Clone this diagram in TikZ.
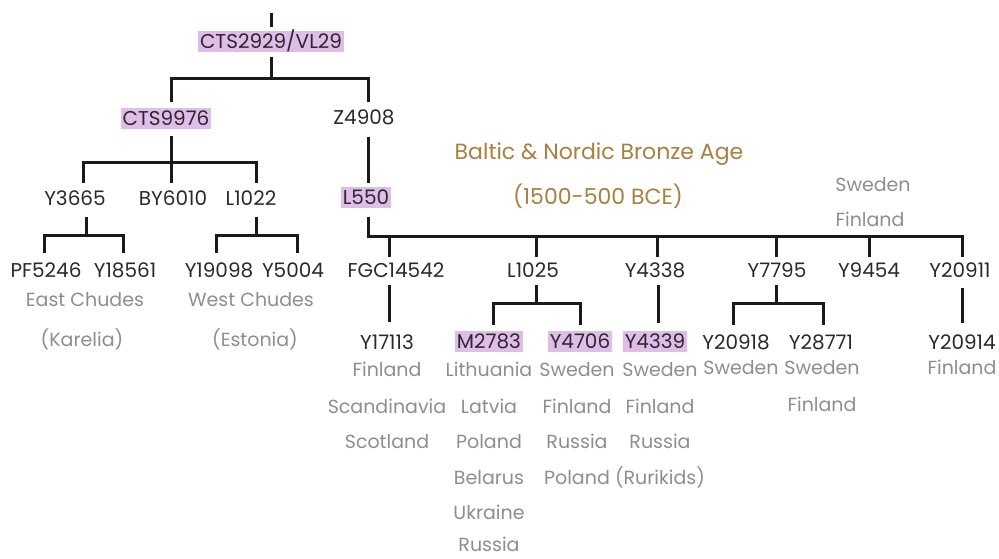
\documentclass[tikz,border=0pt]{standalone}
\usepackage{fontspec}
\setmainfont{Poppins}
\definecolor{hlpurple}{HTML}{E0BCE8}
\definecolor{darktext}{HTML}{2A2A2A}
\definecolor{graytext}{HTML}{8E8E8E}
\definecolor{bronze}{HTML}{A9803F}
\definecolor{treeline}{HTML}{1A1A1A}
\tikzset{
  hap/.style={font=\fontsize{20}{20}\selectfont, text=darktext, inner sep=0pt, text height=14pt, text depth=0pt},
  hl/.style={hap, fill=hlpurple, inner xsep=2pt, inner ysep=3.5pt},
  place/.style={font=\fontsize{19}{19}\selectfont, text=graytext, inner sep=0pt, text height=13pt, text depth=0pt},
  title/.style={font=\fontsize{22}{22}\selectfont, text=bronze, inner sep=0pt, text height=15pt, text depth=0pt},
  tree/.style={line width=3pt, draw=treeline}
}
\begin{document}
\begin{tikzpicture}[x=1pt,y=-1pt]
\useasboundingbox (0,0) rectangle (999,559);
\fill[white] (0,0) rectangle (999,559);
% haplogroup nodes
\node[hl]  (cts2929) at (271,42)    {CTS2929/VL29};
\node[hl]  (cts9976) at (166,118.5) {CTS9976};
\node[hap] (z4908)   at (364,118)   {Z4908};
\node[hap] (y3665)   at (75,198)    {Y3665};
\node[hap] (by6010)  at (173,198)   {BY6010};
\node[hap] (l1022)   at (251,198)   {L1022};
\node[hl]  (l550)    at (366,197.5) {L550};
\node[hap] (pf5246)  at (46,270)    {PF5246};
\node[hap] (y18561)  at (125,270)   {Y18561};
\node[hap] (y19098)  at (219,270)   {Y19098};
\node[hap] (y5004)   at (293,270)   {Y5004};
\node[hap] (fgc)     at (396,270)   {FGC14542};
\node[hap] (l1025)   at (533,270)   {L1025};
\node[hap] (y4338)   at (655,270)   {Y4338};
\node[hap] (y7795)   at (777,270)   {Y7795};
\node[hap] (y9454)   at (869,270)   {Y9454};
\node[hap] (y20911)  at (960,270)   {Y20911};
\node[hap] (y17113)  at (387,342)   {Y17113};
\node[hl]  (m2783)   at (489,341.5) {M2783};
\node[hl]  (y4706)   at (580,341.5) {Y4706};
\node[hl]  (y4339)   at (655,341.5) {Y4339};
\node[hap] (y20918)  at (736,342)   {Y20918};
\node[hap] (y28771)  at (821,342)   {Y28771};
\node[hap] (y20914)  at (962,342)   {Y20914};
% titles
\node[title] (t1) at (599,152) {Baltic \& Nordic Bronze Age};
\node[title] (t2) at (598,197) {(1500-500 BCE)};
% place names
\node[place] (ec)  at (85,300)  {East Chudes};
\node[place] (kar) at (82,340)  {(Karelia)};
\node[place] (wc)  at (251,300) {West Chudes};
\node[place] (est) at (255,340) {(Estonia)};
\node[place] (p9a) at (873,185) {Sweden};
\node[place] (p9b) at (870,220) {Finland};
\node[place] (pa1) at (387,370) {Finland};
\node[place] (pa2) at (387,407) {Scandinavia};
\node[place] (pa3) at (387,442) {Scotland};
\node[place] (pb1) at (489,370) {Lithuania};
\node[place] (pb2) at (489,407) {Latvia};
\node[place] (pb3) at (489,442) {Poland};
\node[place] (pb4) at (489,478) {Belarus};
\node[place] (pb5) at (489,513) {Ukraine};
\node[place] (pb6) at (489,545) {Russia};
\node[place] (pc1) at (577,370) {Sweden};
\node[place] (pc2) at (577,407) {Finland};
\node[place] (pc3) at (577,442) {Russia};
\node[place] (pc4) at (577,478) {Poland};
\node[place] (pd1) at (660,370) {Sweden};
\node[place] (pd2) at (660,407) {Finland};
\node[place] (pd3) at (660,442) {Russia};
\node[place] (pd4) at (660,478) {(Rurikids)};
\node[place] (pe1) at (741,368) {Sweden};
\node[place] (pf1) at (822,368) {Sweden};
\node[place] (pf2) at (822,405) {Finland};
\node[place] (pg1) at (962,368) {Finland};
% tree connectors
\coordinate (top) at (271,13);
\draw[tree] (top) -- ([yshift=4pt]cts2929.north);
\draw[tree] ([yshift=-4pt]cts2929.south) -- ++(0,22) -| ([xshift=5pt,yshift=6pt]cts9976.north);
\draw[tree] ([yshift=-4pt]cts2929.south) -- ++(0,22) -| ([xshift=4pt,yshift=9pt]z4908.north);
% CTS9976
\draw[tree] ([xshift=5pt,yshift=-7pt]cts9976.south) -- ([xshift=-2pt,yshift=8pt]by6010.north);
\draw[tree] ([xshift=5pt,yshift=-7pt]cts9976.south) -- ++(0,26) -| ([xshift=8pt,yshift=8pt]y3665.north);
\draw[tree] ([xshift=5pt,yshift=-7pt]cts9976.south) -- ++(0,26) -| ([xshift=5pt,yshift=8pt]l1022.north);
% Z4908
\draw[tree] ([xshift=4pt,yshift=-12pt]z4908.south) -- ([xshift=2pt,yshift=4pt]l550.north);
% Y3665
\draw[tree] ([xshift=11pt,yshift=-12pt]y3665.south) -- ++(0,18) -| ([xshift=-2pt,yshift=10pt]pf5246.north);
\draw[tree] ([xshift=11pt,yshift=-12pt]y3665.south) -- ++(0,18) -| ([xshift=-2pt,yshift=10pt]y18561.north);
% L1022
\draw[tree] ([xshift=5pt,yshift=-12pt]l1022.south) -- ++(0,18) -| ([xshift=-3pt,yshift=10pt]y19098.north);
\draw[tree] ([xshift=5pt,yshift=-12pt]l1022.south) -- ++(0,18) -| ([xshift=4pt,yshift=10pt]y5004.north);
% L550
\draw[tree] ([xshift=2pt,yshift=-9pt]l550.south) -- ++(0,19) -| ([xshift=-7pt,yshift=6pt]fgc.north);
\draw[tree] ([xshift=2pt,yshift=-9pt]l550.south) -- ++(0,19) -| ([xshift=3pt,yshift=6pt]l1025.north);
\draw[tree] ([xshift=2pt,yshift=-9pt]l550.south) -- ++(0,19) -| ([xshift=2pt,yshift=6pt]y4338.north);
\draw[tree] ([xshift=2pt,yshift=-9pt]l550.south) -- ++(0,19) -| ([xshift=-1pt,yshift=6pt]y7795.north);
\draw[tree] ([xshift=2pt,yshift=-9pt]l550.south) -- ++(0,19) -| ([yshift=6pt]y9454.north);
\draw[tree] ([xshift=2pt,yshift=-9pt]l550.south) -- ++(0,19) -| ([xshift=2pt,yshift=6pt]y20911.north);
% FGC14542
\draw[tree] ([xshift=-7pt,yshift=-8pt]fgc.south) -- ([xshift=2pt,yshift=13pt]y17113.north);
% L1025
\draw[tree] ([xshift=3pt,yshift=-8pt]l1025.south) -- ++(0,18) -| ([xshift=4pt,yshift=6pt]m2783.north);
\draw[tree] ([xshift=3pt,yshift=-8pt]l1025.south) -- ++(0,18) -| ([yshift=6pt]y4706.north);
% Y4338
\draw[tree] ([xshift=3pt,yshift=-8pt]y4338.south) -- ([xshift=3pt,yshift=8pt]y4339.north);
% Y7795
\draw[tree] ([xshift=-1pt,yshift=-8pt]y7795.south) -- ++(0,18) -| ([xshift=-3pt,yshift=10pt]y20918.north);
\draw[tree] ([xshift=-1pt,yshift=-8pt]y7795.south) -- ++(0,18) -| ([xshift=2pt,yshift=10pt]y28771.north);
% Y20911
\draw[tree] ([xshift=2pt,yshift=-11pt]y20911.south) -- ([yshift=12pt]y20914.north);
\end{tikzpicture}
\end{document}
